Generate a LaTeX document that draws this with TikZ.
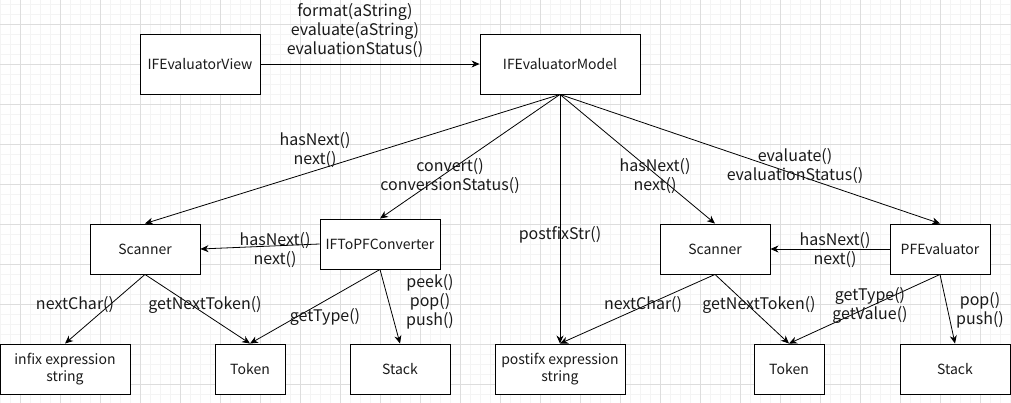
\documentclass[tikz,border=0pt]{standalone}
\usepackage{fontspec}
\setmainfont{Noto Sans CJK SC}
\usetikzlibrary{arrows.meta}
\definecolor{minorgrid}{HTML}{F4F4F4}
\definecolor{majorgrid}{HTML}{DDDDDD}
\definecolor{ink}{HTML}{1A1A1A}
\begin{document}
\begin{tikzpicture}[x=1pt,y=-1pt,
  box/.style={draw=black,line width=0.9pt,fill=white,inner sep=0pt,align=center,
    font=\fontsize{14}{17}\selectfont,text=ink},
  lbl/.style={inner sep=0pt,align=center,font=\fontsize{16}{19}\selectfont,text=ink},
  link/.style={draw=black,line width=0.8pt,-{Stealth[length=8pt,width=7pt,inset=2.5pt]}}]
\useasboundingbox (0,0) rectangle (1011,403);
\fill[white] (0,0) rectangle (1011,403);
% grid
\foreach \x in {0,10,...,1010} \draw[minorgrid,line width=0.8pt] (\x,0) -- (\x,403);
\foreach \y in {4,14,...,403} \draw[minorgrid,line width=0.8pt] (0,\y) -- (1011,\y);
\foreach \x in {20,60,...,1010} \draw[majorgrid,line width=0.8pt] (\x,0) -- (\x,403);
\foreach \y in {24,64,...,403} \draw[majorgrid,line width=0.8pt] (0,\y) -- (1011,\y);
% boxes
\node[box,minimum width=120pt,minimum height=60pt] (view) at (200,64) {IFEvaluatorView};
\node[box,minimum width=160pt,minimum height=60pt] (model) at (560,64) {IFEvaluatorModel};
\node[box,minimum width=110pt,minimum height=50pt] (scanL) at (145,249) {Scanner};
\node[box,minimum width=120pt,minimum height=50pt] (conv) at (380,244) {IFToPFConverter};
\node[box,minimum width=110pt,minimum height=50pt] (scanR) at (715,249) {Scanner};
\node[box,minimum width=100pt,minimum height=50pt] (pfe) at (940,249) {PFEvaluator};
\node[box,minimum width=130pt,minimum height=50pt] (infix) at (65,369) {infix expression\\string};
\node[box,minimum width=70pt,minimum height=50pt] (tokL) at (250,369) {Token};
\node[box,minimum width=100pt,minimum height=50pt] (stackL) at (400,369) {Stack};
\node[box,minimum width=130pt,minimum height=50pt] (postfix) at (560,369) {postifx expression\\string};
\node[box,minimum width=70pt,minimum height=50pt] (tokR) at (789,369) {Token};
\node[box,minimum width=110pt,minimum height=50pt] (stackR) at (955,369) {Stack};
% connectors
\draw[link] (view.east) -- (model.west);
\draw[link] (model.south) -- (scanL.north);
\draw[link] (model.south) -- (conv.north);
\draw[link] (model.south) -- (postfix.north);
\draw[link] (model.south) -- (scanR.north);
\draw[link] (model.south) -- (pfe.north);
\draw[link] (conv.west) -- (scanL.east);
\draw[link] (pfe.west) -- (scanR.east);
\draw[link] (scanL.south) -- (infix.north);
\draw[link] (scanL.south) -- (tokL.north);
\draw[link] (conv.south) -- (tokL.north);
\draw[link] (conv.south) -- (stackL.north);
\draw[link] (scanR.south) -- (postfix.north);
\draw[link] (scanR.south) -- (tokR.north);
\draw[link] (pfe.south) -- (tokR.north);
\draw[link] (pfe.south) -- (stackR.north);
% labels
\node[lbl] (l1) at (355,31) {format(aString)\\evaluate(aString)\\evaluationStatus()};
\node[lbl] (l2) at (315,150) {hasNext()\\next()};
\node[lbl] (l3) at (450,176) {convert()\\conversionStatus()};
\node[lbl] (l4) at (560,235) {postfixStr()};
\node[lbl] (l5) at (655,176) {hasNext()\\next()};
\node[lbl] (l6) at (795,166) {evaluate()\\evaluationStatus()};
\node[lbl] (l7) at (275,250) {hasNext()\\next()};
\node[lbl] (l8) at (835,250) {hasNext()\\next()};
\node[lbl] (l9) at (75,305) {nextChar()};
\node[lbl] (l10) at (205,305) {getNextToken()};
\node[lbl] (l11) at (325,317) {getType()};
\node[lbl] (l12) at (430,302) {peek()\\pop()\\push()};
\node[lbl] (l13) at (643,305) {nextChar()};
\node[lbl] (l14) at (759,305) {getNextToken()};
\node[lbl] (l15) at (870,305) {getType()\\getValue()};
\node[lbl] (l16) at (980,310) {pop()\\push()};
\end{tikzpicture}
\end{document}
